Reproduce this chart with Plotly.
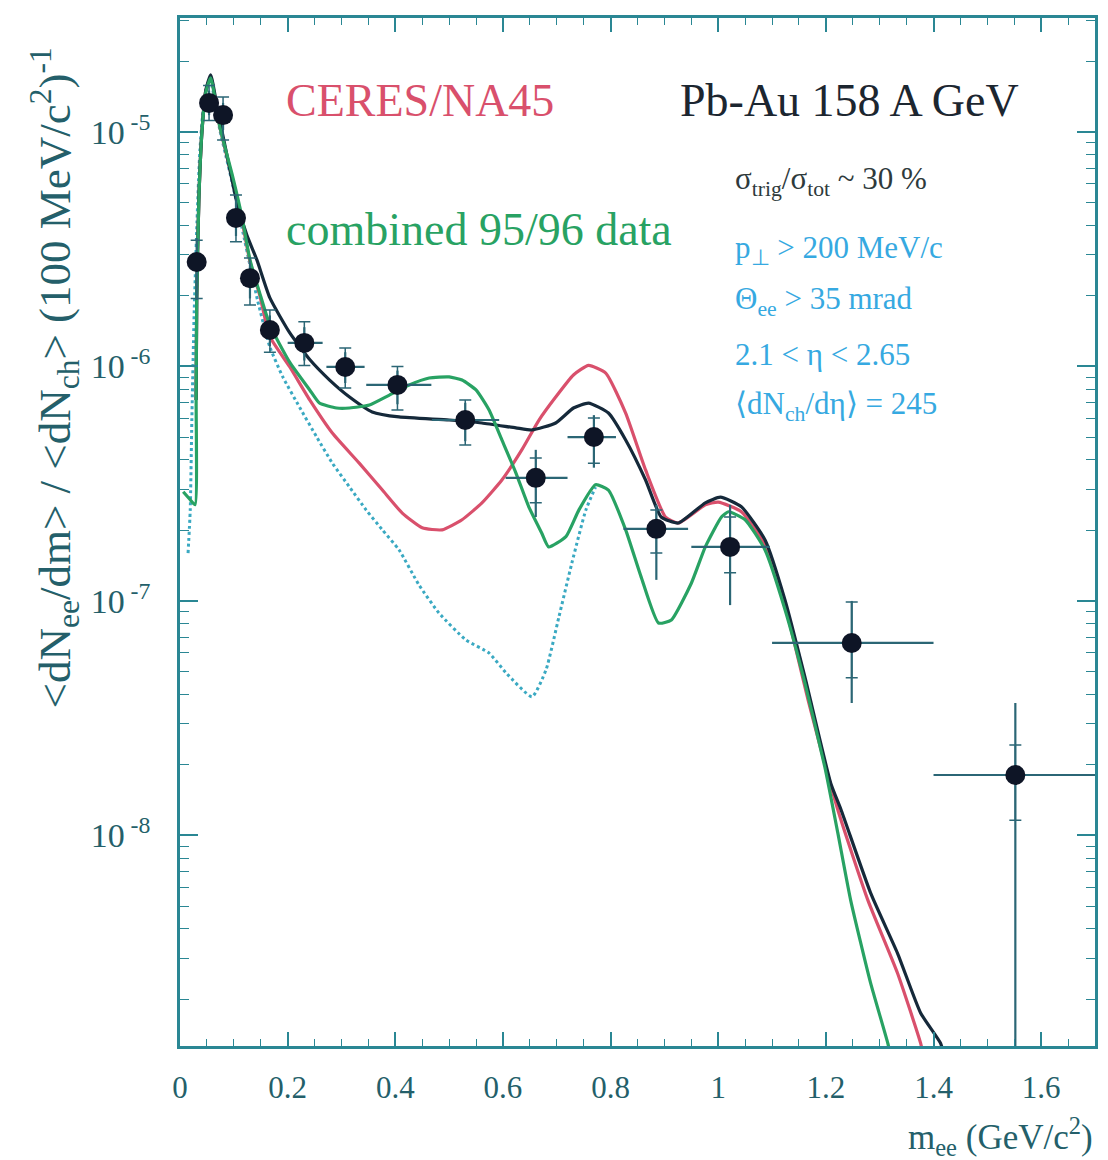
import numpy as np
import plotly.graph_objects as go

# ---------------- data points (CERES combined 95/96) ----------------
m_data = [0.031, 0.054, 0.080, 0.104, 0.130, 0.167, 0.231, 0.307, 0.404, 0.530,
          0.661, 0.769, 0.885, 1.022, 1.248, 1.552]
y_data = [2.79e-6, 1.33e-5, 1.18e-5, 4.30e-6, 2.38e-6, 1.43e-6, 1.26e-6, 9.95e-7,
          8.34e-7, 5.91e-7, 3.35e-7, 5.0e-7, 2.03e-7, 1.70e-7, 6.62e-8, 1.81e-8]
m_lo = [0.025, 0.047, 0.073, 0.097, 0.122, 0.155, 0.200, 0.272, 0.346, 0.468,
        0.605, 0.720, 0.824, 0.950, 1.100, 1.400]
m_hi = [0.037, 0.061, 0.087, 0.111, 0.138, 0.180, 0.265, 0.343, 0.467, 0.593,
        0.720, 0.810, 0.944, 1.096, 1.400, 1.700]
stat_hi = [3.53e-6, 1.50e-5, 1.33e-5, 5.1e-6, 2.75e-6, 1.65e-6, 1.47e-6, 1.15e-6,
           9.6e-7, 7.0e-7, 4.41e-7, 6.2e-7, 2.57e-7, 2.57e-7, 1.0e-7, 3.67e-8]
stat_lo = [1.92e-6, 1.18e-5, 1.02e-5, 3.6e-6, 1.95e-6, 1.22e-6, 1.06e-6, 8.5e-7,
           6.9e-7, 4.8e-7, 2.28e-7, 3.7e-7, 1.23e-7, 9.6e-8, 3.67e-8, 1.0e-9]
sys_hi = [3.45e-6, 1.58e-5, 1.41e-5, 5.39e-6, 2.90e-6, 1.74e-6, 1.55e-6, 1.20e-6,
          1.0e-6, 7.19e-7, 4.07e-7, 6.03e-7, 2.44e-7, 2.28e-7, 9.9e-8, 2.43e-8]
sys_lo = [1.95e-6, 1.12e-5, 9.24e-6, 3.40e-6, 1.83e-6, 1.15e-6, 1.01e-6, 8.09e-7,
          6.52e-7, 4.62e-7, 2.62e-7, 3.87e-7, 1.60e-7, 1.32e-7, 4.7e-8, 1.16e-8]

# ---------------- model curves ----------------
m_green = [0.006, 0.019, 0.028, 0.030, 0.031, 0.035, 0.041, 0.048, 0.057, 0.074,
           0.098, 0.115, 0.130, 0.148, 0.167, 0.204, 0.241, 0.259, 0.291, 0.315,
           0.352, 0.389, 0.426, 0.463, 0.500, 0.524, 0.550, 0.574, 0.598, 0.624,
           0.648, 0.672, 0.685, 0.717, 0.741, 0.772, 0.796, 0.828, 0.857, 0.889,
           0.913, 0.950, 0.976, 1.006, 1.019, 1.050, 1.087, 1.124, 1.161, 1.198,
           1.222, 1.246, 1.283, 1.315, 1.322]
y_green = [2.92e-7, 2.70e-7, 2.57e-7, 7.2e-7, 1.92e-6, 5.13e-6, 1.02e-5, 1.48e-5, 1.70e-5, 1.05e-5,
           6.43e-6, 4.35e-6, 2.85e-6, 2.06e-6, 1.50e-6, 1.04e-6, 7.94e-7, 6.98e-7, 6.65e-7, 6.65e-7,
           6.85e-7, 7.55e-7, 8.34e-7, 8.93e-7, 9.02e-7, 8.75e-7, 7.94e-7, 6.53e-7, 4.86e-7, 3.52e-7,
           2.52e-7, 1.95e-7, 1.70e-7, 1.88e-7, 2.44e-7, 3.13e-7, 2.97e-7, 2.01e-7, 1.26e-7, 8.05e-8,
           8.3e-8, 1.19e-7, 1.70e-7, 2.28e-7, 2.40e-7, 2.22e-7, 1.65e-7, 9.2e-8, 4.47e-8, 1.96e-8,
           1.03e-8, 5.3e-9, 2.35e-9, 1.30e-9, 1.1e-9]

m_dark = [0.030, 0.031, 0.035, 0.041, 0.048, 0.057, 0.070, 0.089, 0.106, 0.124,
          0.143, 0.167, 0.204, 0.241, 0.278, 0.315, 0.357, 0.407, 0.500, 0.561,
          0.624, 0.654, 0.698, 0.731, 0.759, 0.796, 0.828, 0.865, 0.894, 0.926,
          0.976, 1.004, 1.043, 1.087, 1.124, 1.161, 1.209, 1.228, 1.283, 1.333,
          1.376, 1.413, 1.422]
y_dark = [7.2e-7, 1.92e-6, 5.13e-6, 1.02e-5, 1.51e-5, 1.75e-5, 1.24e-5, 7.6e-6, 4.98e-6, 3.64e-6,
          2.84e-6, 1.96e-6, 1.39e-6, 1.07e-6, 8.75e-7, 7.41e-7, 6.40e-7, 6.09e-7, 5.91e-7, 5.74e-7,
          5.47e-7, 5.36e-7, 5.74e-7, 6.65e-7, 6.98e-7, 6.33e-7, 4.86e-7, 3.28e-7, 2.28e-7, 2.15e-7,
          2.62e-7, 2.77e-7, 2.52e-7, 1.82e-7, 1.01e-7, 4.74e-8, 1.67e-8, 1.29e-8, 5.69e-9, 3.15e-9,
          1.75e-9, 1.30e-9, 1.1e-9]

m_red = [0.030, 0.031, 0.035, 0.041, 0.048, 0.057, 0.074, 0.098, 0.115, 0.130,
         0.148, 0.167, 0.204, 0.241, 0.283, 0.333, 0.376, 0.413, 0.450, 0.487,
         0.524, 0.561, 0.598, 0.635, 0.667, 0.698, 0.731, 0.759, 0.791, 0.828,
         0.865, 0.902, 0.926, 0.976, 1.000, 1.043, 1.087, 1.124, 1.167, 1.222,
         1.278, 1.333, 1.376, 1.383]
y_red = [7.2e-7, 1.92e-6, 5.13e-6, 1.02e-5, 1.50e-5, 1.72e-5, 1.05e-5, 6.24e-6, 4.22e-6, 2.80e-6,
         2.02e-6, 1.34e-6, 9.95e-7, 7.2e-7, 5.2e-7, 3.87e-7, 2.97e-7, 2.37e-7, 2.05e-7, 2.01e-7,
         2.22e-7, 2.62e-7, 3.28e-7, 4.41e-7, 5.91e-7, 7.41e-7, 9.2e-7, 1.01e-6, 9.37e-7, 6.33e-7,
         3.62e-7, 2.28e-7, 2.15e-7, 2.57e-7, 2.64e-7, 2.40e-7, 1.73e-7, 9.6e-8, 3.78e-8, 1.29e-8,
         5.3e-9, 2.59e-9, 1.30e-9, 1.1e-9]

m_cocktail = [0.015, 0.019, 0.022, 0.026, 0.031, 0.037, 0.046, 0.056, 0.074, 0.098,
              0.120, 0.144, 0.167, 0.191, 0.222, 0.254, 0.283, 0.315, 0.346, 0.376,
              0.407, 0.444, 0.481, 0.531, 0.574, 0.606, 0.654, 0.680, 0.704, 0.728,
              0.754, 0.772]
y_cocktail = [1.60e-7, 2.44e-7, 5.91e-7, 1.58e-6, 3.82e-6, 8.38e-6, 1.44e-5, 1.67e-5, 1.02e-5, 5.94e-6,
              3.46e-6, 1.92e-6, 1.21e-6, 9.02e-7, 6.71e-7, 5.0e-7, 3.87e-7, 3.06e-7, 2.44e-7, 2.01e-7,
              1.65e-7, 1.17e-7, 8.89e-8, 6.82e-8, 6.0e-8, 4.93e-8, 3.90e-8, 5.08e-8, 8.55e-8, 1.45e-7,
              2.44e-7, 3.06e-7]

x_ticks = [0, 0.2, 0.4, 0.6, 0.8, 1.0, 1.2, 1.4, 1.6]
x_ticktext = ["0", "0.2", "0.4", "0.6", "0.8", "1", "1.2", "1.4", "1.6"]
y_ticks = [1e-5, 1e-6, 1e-7, 1e-8]
y_ticktext = ["10<sup> -5</sup>", "10<sup> -6</sup>", "10<sup> -7</sup>", "10<sup> -8</sup>"]

# ---------------- styling ----------------
SERIF = "Liberation Serif, Times New Roman, serif"
AXC = "#2a8794"
LBL = "#245f6a"
RED = "#d9506c"
DARK = "#15293a"
GREEN = "#28a263"
DOT = "#3aa9c2"
CYAN = "#36a9e1"
ERR = "#2b6675"

y = np.array(y_data)
m = np.array(m_data)

fig = go.Figure()

fig.add_trace(go.Scatter(x=m_cocktail, y=y_cocktail, mode="lines",
                         line=dict(color=DOT, width=3, dash="dot", shape="spline", smoothing=0.5),
                         showlegend=False))
fig.add_trace(go.Scatter(x=m_red, y=y_red, mode="lines",
                         line=dict(color=RED, width=3.2, shape="spline", smoothing=0.5),
                         showlegend=False))
fig.add_trace(go.Scatter(x=m_dark, y=y_dark, mode="lines",
                         line=dict(color=DARK, width=3.2, shape="spline", smoothing=0.5),
                         showlegend=False))
fig.add_trace(go.Scatter(x=m_green, y=y_green, mode="lines",
                         line=dict(color=GREEN, width=3.2, shape="spline", smoothing=0.5),
                         showlegend=False))

# systematic brackets
fig.add_trace(go.Scatter(
    x=m_data, y=y_data, mode="markers",
    marker=dict(size=1, color="rgba(0,0,0,0)"),
    error_y=dict(type="data", symmetric=False,
                 array=np.array(sys_hi) - y, arrayminus=y - np.array(sys_lo),
                 color=ERR, thickness=1.5, width=6),
    showlegend=False, hoverinfo="skip"))

# statistical errors + points
fig.add_trace(go.Scatter(
    x=m_data, y=y_data, mode="markers",
    marker=dict(size=20, color="#0e1526"),
    error_y=dict(type="data", symmetric=False,
                 array=np.array(stat_hi) - y, arrayminus=y - np.array(stat_lo),
                 color=ERR, thickness=2.2, width=0),
    error_x=dict(type="data", symmetric=False,
                 array=np.array(m_hi) - m, arrayminus=m - np.array(m_lo),
                 color=ERR, thickness=2.2, width=0),
    showlegend=False))

ann = []
ann.append(dict(x=0.194, y=-4.864, xref="x", yref="y", text="CERES/NA45", showarrow=False,
                xanchor="left", yanchor="middle", font=dict(family=SERIF, size=46, color=RED)))
ann.append(dict(x=0.926, y=-4.864, xref="x", yref="y", text="Pb-Au 158 A GeV", showarrow=False,
                xanchor="left", yanchor="middle", font=dict(family=SERIF, size=46, color="#1c2630")))
ann.append(dict(x=0.194, y=-5.418, xref="x", yref="y", text="combined 95/96 data", showarrow=False,
                xanchor="left", yanchor="middle", font=dict(family=SERIF, size=46, color=GREEN)))
ann.append(dict(x=1.028, y=-5.21, xref="x", yref="y",
                text="σ<sub>trig</sub>/σ<sub>tot</sub> ~ 30 %", showarrow=False,
                xanchor="left", yanchor="middle", font=dict(family=SERIF, size=31, color="#2e3a3c")))
info = [("p<sub>⊥</sub> > 200 MeV/c", -5.505),
        ("Θ<sub>ee</sub> > 35 mrad", -5.72),
        ("2.1 < η < 2.65", -5.951),
        ("⟨dN<sub>ch</sub>/dη⟩ = 245", -6.17)]
for t, yy in info:
    ann.append(dict(x=1.028, y=yy, xref="x", yref="y", text=t, showarrow=False,
                    xanchor="left", yanchor="middle", font=dict(family=SERIF, size=31, color=CYAN)))

ann.append(dict(x=-0.137, y=0.65, xref="paper", yref="paper", textangle=-90,
                text="<dN<sub>ee</sub>/dm> / <dN<sub>ch</sub>> (100 MeV/c<sup>2</sup>)<sup>-1</sup>",
                showarrow=False, xanchor="center", yanchor="middle",
                font=dict(family=SERIF, size=45, color=LBL)))
ann.append(dict(x=1.0, y=-0.088, xref="paper", yref="paper",
                text="m<sub>ee</sub> (GeV/c<sup>2</sup>)", showarrow=False,
                xanchor="right", yanchor="middle", font=dict(family=SERIF, size=35, color=LBL)))

fig.update_layout(
    width=1108, height=1160,
    margin=dict(l=180, r=10, t=18, b=114),
    paper_bgcolor="white", plot_bgcolor="white",
    annotations=ann,
    xaxis=dict(range=[0, 1.7], tickvals=x_ticks, ticktext=x_ticktext,
               ticks="inside", ticklen=14, tickwidth=1.5, tickcolor=AXC,
               minor=dict(ticks="inside", ticklen=7, dtick=0.05, tickcolor=AXC, tickwidth=1.2),
               showline=True, linecolor=AXC, linewidth=2.5, mirror="ticks",
               showgrid=False, zeroline=False, ticklabelstandoff=12,
               tickfont=dict(family=SERIF, size=31, color=LBL)),
    yaxis=dict(type="log", range=[-8.898, -4.514], tickvals=y_ticks, ticktext=y_ticktext,
               ticks="inside", ticklen=18, tickwidth=1.5, tickcolor=AXC,
               minor=dict(ticks="inside", ticklen=9, dtick="D1", tickcolor=AXC, tickwidth=1.2),
               showline=True, linecolor=AXC, linewidth=2.5, mirror="ticks",
               showgrid=False, zeroline=False, ticklabelstandoff=20,
               tickfont=dict(family=SERIF, size=34, color=LBL)),
)

fig.write_html("out.html")
